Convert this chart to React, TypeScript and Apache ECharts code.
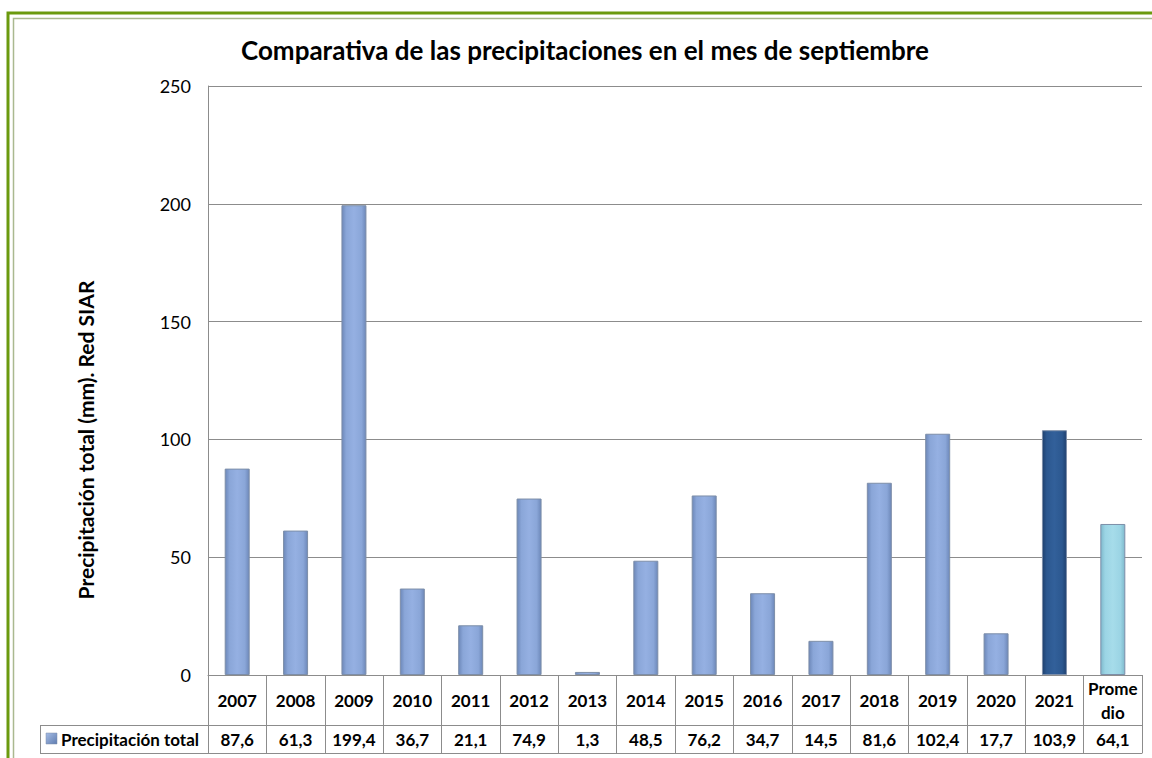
import React, { useEffect, useRef } from "react";
import * as echarts from "echarts";

const categories = ["2007","2008","2009","2010","2011","2012","2013","2014","2015","2016","2017","2018","2019","2020","2021","Prome\ndio"];
const values = [87.6, 61.3, 199.4, 36.7, 21.1, 74.9, 1.3, 48.5, 76.2, 34.7, 14.5, 81.6, 102.4, 17.7, 103.9, 64.1];
const yTicks = [0, 50, 100, 150, 200, 250];
const seriesName = "Precipitación total";
const titleText = "Comparativa de las precipitaciones en el mes de septiembre";
const yAxisTitle = "Precipitación total (mm). Red SIAR";

const FONT = "Lato, 'Open Sans', sans-serif";
const GRID = "#8c8c8c";

function grad(edge: string, mid: string, light: string) {
  return new echarts.graphic.LinearGradient(0, 0, 1, 0, [
    { offset: 0, color: edge },
    { offset: 0.18, color: mid },
    { offset: 0.5, color: light },
    { offset: 0.82, color: mid },
    { offset: 1, color: edge },
  ]);
}

export default function App() {
  const ref = useRef<HTMLDivElement>(null);
  useEffect(() => {
    if (!ref.current) return;
    const chart = echarts.init(ref.current, undefined, { renderer: "svg" });
    const normal = grad("#6d88b9", "#8aa6d8", "#95b0e2");
    const dark = grad("#1f416f", "#2c5890", "#32609a");
    const light = grad("#7fb9cc", "#9bd4e4", "#a6dcea");
    const data = values.map((v, i) => {
      let color: any = normal;
      if (i === values.length - 2) color = dark;
      if (i === values.length - 1) color = light;
      return { value: v, itemStyle: { color, borderColor: "#7d8ea8", borderWidth: 1 } };
    });
    chart.setOption({
      animation: false,
      backgroundColor: "#ffffff",
      grid: { left: 208, top: 86, right: 10, bottom: 83 },
      xAxis: [
        {
          type: "category",
          data: categories,
          position: "bottom",
          axisLine: { show: true, lineStyle: { color: GRID, width: 1 } },
          axisTick: { show: true, length: 78, lineStyle: { color: GRID, width: 1 } },
          axisLabel: {
            interval: 0,
            margin: 25,
            verticalAlign: "middle",
            fontFamily: FONT,
            fontWeight: "bold",
            fontSize: 17,
            lineHeight: 24,
            color: "#000",
          },
        },
        {
          type: "category",
          data: categories,
          position: "bottom",
          offset: 50,
          axisLine: { show: true, lineStyle: { color: GRID, width: 1 } },
          axisTick: { show: false },
          axisLabel: {
            interval: 0,
            margin: 14,
            verticalAlign: "middle",
            fontFamily: FONT,
            fontWeight: "bold",
            fontSize: 17,
            color: "#000",
            formatter: (_v: string, i: number) => values[i].toFixed(1).replace(".", ","),
          },
        },
        {
          type: "category",
          data: categories,
          position: "bottom",
          offset: 78,
          axisLine: { show: true, lineStyle: { color: GRID, width: 1 } },
          axisTick: { show: false },
          axisLabel: { show: false },
        },
      ],
      yAxis: {
        type: "value",
        min: yTicks[0],
        max: yTicks[yTicks.length - 1],
        interval: 50,
        axisLine: { show: true, lineStyle: { color: GRID } },
        axisTick: { show: false },
        splitLine: { show: true, lineStyle: { color: GRID } },
        axisLabel: { margin: 17, fontFamily: FONT, fontSize: 18, color: "#000" },
      },
      series: [
        {
          type: "bar",
          name: seriesName,
          data,
          barWidth: 25,
          xAxisIndex: 0,
        },
      ],
      graphic: [
        { type: "rect", shape: { x: 8, y: 13, width: 1200, height: 800 }, style: { fill: "none", stroke: "#6b9a0e", lineWidth: 3 }, silent: true },
        { type: "rect", shape: { x: 13.5, y: 18.5, width: 1200, height: 800 }, style: { fill: "none", stroke: "#aab98f", lineWidth: 1.5 }, silent: true },
        { type: "text", x: 585, y: 50, style: { text: titleText, fontFamily: FONT, fontWeight: "bold", fontSize: 26, fill: "#000", textAlign: "center", textVerticalAlign: "middle" } },
        { type: "text", x: 85, y: 440, rotation: Math.PI / 2, style: { text: yAxisTitle, fontFamily: FONT, fontWeight: "bold", fontSize: 21, fill: "#000", textAlign: "center", textVerticalAlign: "middle" } },
        { type: "line", shape: { x1: 40, y1: 725.5, x2: 208, y2: 725.5 }, style: { stroke: GRID, lineWidth: 1 } },
        { type: "line", shape: { x1: 40, y1: 753.5, x2: 208, y2: 753.5 }, style: { stroke: GRID, lineWidth: 1 } },
        { type: "line", shape: { x1: 40.5, y1: 725.5, x2: 40.5, y2: 753.5 }, style: { stroke: GRID, lineWidth: 1 } },
        { type: "rect", shape: { x: 46, y: 733, width: 11, height: 11 }, style: { fill: new echarts.graphic.LinearGradient(0, 0, 1, 1, [ { offset: 0, color: "#a6bde6" }, { offset: 1, color: "#5f7cb0" } ]), stroke: "#7d8ea8", lineWidth: 0.5 } },
        { type: "text", x: 61, y: 739.5, style: { text: seriesName, fontFamily: FONT, fontWeight: "bold", fontSize: 17, fill: "#000", textAlign: "left", textVerticalAlign: "middle" } },
      ],
    });
    return () => chart.dispose();
  }, []);
  return <div ref={ref} style={{ position: "fixed", left: 0, top: 0, width: 1152, height: 758 }} />;
}
